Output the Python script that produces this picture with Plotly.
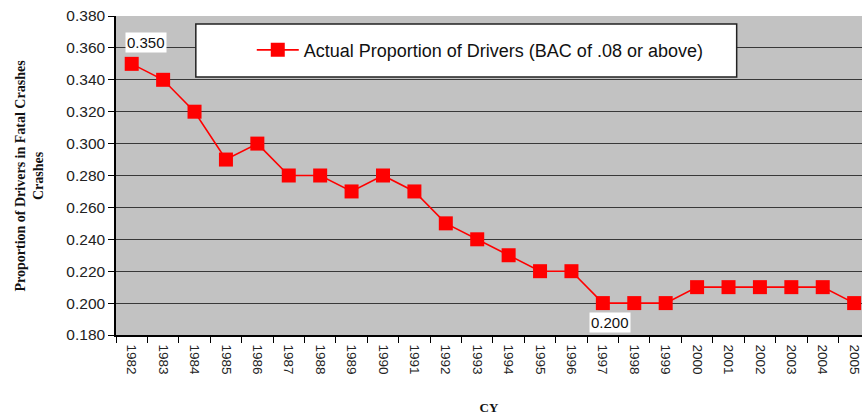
import plotly.graph_objects as go

years = [str(y) for y in range(1982, 2006)]
proportion = [0.350, 0.340, 0.320, 0.290, 0.300, 0.280, 0.280, 0.270, 0.280, 0.270,
              0.250, 0.240, 0.230, 0.220, 0.220, 0.200, 0.200, 0.200, 0.210, 0.210,
              0.210, 0.210, 0.210, 0.200]
series_name = "Actual Proportion of Drivers (BAC of .08 or above)"
y_ticks = [0.18 + 0.02 * i for i in range(11)]

fig = go.Figure()
fig.add_trace(go.Scatter(
    x=years, y=proportion, mode="lines+markers", name=series_name,
    line=dict(color="#ff0000", width=1.6),
    marker=dict(symbol="square", size=14, color="#ff0000"),
))

fig.update_layout(
    width=862, height=416,
    margin=dict(l=116, r=0, t=16, b=81),
    paper_bgcolor="white",
    plot_bgcolor="#c2c2c2",
    showlegend=True,
    legend=dict(x=0.182, y=0.893, xanchor="left", yanchor="middle",
                bgcolor="rgba(0,0,0,0)", borderwidth=0,
                font=dict(family="Liberation Sans, Arial", size=18, color="#111"),
                itemwidth=42),
    xaxis=dict(type="category", range=[-0.5, 23.25], tickangle=90,
               showgrid=False, showline=True, linecolor="black", linewidth=1.5,
               ticks="outside", ticklen=6, tickcolor="black",
               tickson="boundaries", ticklabelstandoff=5,
               tickfont=dict(family="Liberation Sans, Arial", size=13.5, color="#222"),
               title=dict(text="<b>CY</b>", standoff=29,
                          font=dict(family="Liberation Serif, Times New Roman", size=13, color="#111"))),
    yaxis=dict(range=[0.18, 0.38], tickvals=y_ticks, tickformat=".3f",
               showgrid=True, gridcolor="#383838", gridwidth=1,
               showline=True, linecolor="black", linewidth=1.5,
               ticks="outside", ticklen=6, tickcolor="black",
               tickfont=dict(family="Liberation Sans, Arial", size=15.5, color="#222"),
               zeroline=False),
)

# white legend box
fig.add_shape(type="rect", xref="paper", yref="paper",
              x0=0.107, x1=0.832, y0=0.809, y1=0.975,
              fillcolor="white", line=dict(color="#222", width=1.5), layer="above")

fig.add_annotation(xref="paper", yref="paper", x=-0.1166, xanchor="center", y=0.5,
                   text="<b>Proportion of Drivers in Fatal Crashes</b><br><b>Crashes</b>",
                   textangle=-90, showarrow=False,
                   font=dict(family="Liberation Serif, Times New Roman", size=14, color="#111"))

fig.add_annotation(x=0, y=proportion[0], text="0.350", showarrow=False,
                   yshift=21, xshift=14, bgcolor="white",
                   font=dict(family="Liberation Sans, Arial", size=15, color="#111"))
fig.add_annotation(x=15, y=proportion[15], text="0.200", showarrow=False,
                   yshift=-19, xshift=7, bgcolor="white",
                   font=dict(family="Liberation Sans, Arial", size=15, color="#111"))

fig.write_html("out.html", config={"displayModeBar": False},
               post_script="document.body.style.margin='0';")
